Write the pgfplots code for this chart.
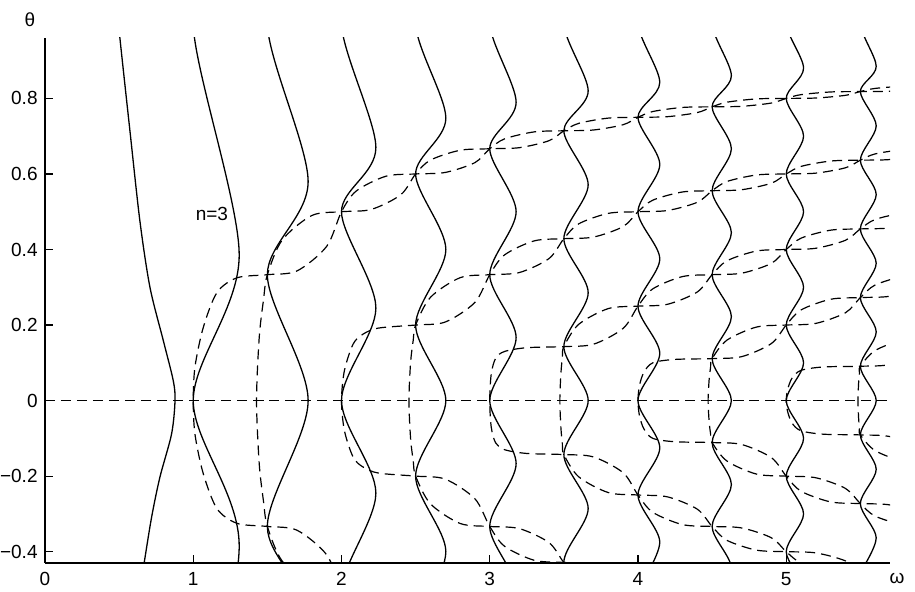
\documentclass[border=0pt]{standalone}
\usepackage{fontspec}
\setmainfont{Liberation Sans}
\usepackage{pgfplots}
\pgfplotsset{compat=1.18}

\pgfplotsset{
  sol/.style={black, line width=0.65pt, smooth},
  dsh/.style={black, line width=0.6pt, smooth, dash pattern=on 5pt off 3pt},
}

\begin{document}
\begin{tikzpicture}[font=\fontsize{9.5}{11}\selectfont]
\begin{axis}[
    scale only axis,
    width=422.5pt, height=262.5pt,
    xmin=0, xmax=5.7, ymin=-0.43, ymax=0.96,
    axis lines=left,
    axis line style={-},
    x axis line style={line width=0.7pt},
    y axis line style={line width=1.1pt},
    xtick={0,1,2,3,4,5},
    xticklabels={0,1,2,3,4,5},
    ytick={-0.4,-0.2,0,0.2,0.4,0.6,0.8},
    yticklabels={−0.4,−0.2,0,0.2,0.4,0.6,0.8},
    tick align=inside,
    major tick length=4pt,
    tick style={black, line width=0.6pt},
    xticklabel style={inner sep=0pt, yshift=-4.5pt},
    yticklabel style={inner sep=0pt, xshift=-3.5pt},
]
\coordinate (SW) at (rel axis cs:0,0);
\coordinate (NE) at (rel axis cs:1,1);

% zero line
\addplot[dsh] coordinates {(0,0) (5.7,0)};

% solid branches
\addplot[sol] coordinates {(0.47,1.1) (0.506,0.957) (0.573,0.714) (0.64,0.476) (0.708,0.30) (0.798,0.159) (0.865,0.053) (0.877,0) (0.854,-0.088) (0.775,-0.203) (0.719,-0.309) (0.668,-0.432) (0.64,-0.5)};
\addplot[sol] coordinates {(1.31,1.2) (1.0,1.0) (1.31,0.385) (1.0,0) (1.31,-0.385) (1.0,-1.0)};
\addplot[sol] coordinates {(1.775,1.25) (1.5,1.0) (1.775,0.58) (1.5,0.3333) (1.775,0) (1.5,-0.3333) (1.775,-0.58) (1.5,-1.0)};
\addplot[sol] coordinates {(2.232,1.2) (2.0,1.0) (2.232,0.67) (2.0,0.5) (2.232,0.245) (2.0,0) (2.232,-0.245) (2.0,-0.5) (2.232,-0.67)};
\addplot[sol] coordinates {(2.704,1.2) (2.5,1.0) (2.704,0.748) (2.5,0.6) (2.704,0.4) (2.5,0.2) (2.704,0) (2.5,-0.2) (2.704,-0.4) (2.5,-0.6)};
\addplot[sol] coordinates {(3.178,1.15) (3.0,1.0) (3.178,0.79) (3.0,0.6667) (3.178,0.5) (3.0,0.3333) (3.178,0.1667) (3.0,0) (3.178,-0.1667) (3.0,-0.3333) (3.178,-0.5) (3.0,-0.6667)};
\addplot[sol] coordinates {(3.664,1.15) (3.5,1.0) (3.664,0.82) (3.5,0.7143) (3.664,0.5714) (3.5,0.4286) (3.664,0.2857) (3.5,0.1429) (3.664,0) (3.5,-0.1429) (3.664,-0.2857) (3.5,-0.4286) (3.664,-0.5714)};
\addplot[sol] coordinates {(4.147,1.12) (4.0,1.0) (4.147,0.8425) (4.0,0.75) (4.147,0.625) (4.0,0.5) (4.147,0.375) (4.0,0.25) (4.147,0.125) (4.0,0) (4.147,-0.125) (4.0,-0.25) (4.147,-0.375) (4.0,-0.5)};
\addplot[sol] coordinates {(4.63,1.12) (4.5,1.0) (4.63,0.86) (4.5,0.7778) (4.63,0.6667) (4.5,0.5556) (4.63,0.4444) (4.5,0.3333) (4.63,0.2222) (4.5,0.1111) (4.63,0) (4.5,-0.1111) (4.63,-0.2222) (4.5,-0.3333) (4.63,-0.4444) (4.5,-0.5556)};
\addplot[sol] coordinates {(5.117,1.1) (5.0,1.0) (5.117,0.88) (5.0,0.8) (5.117,0.7) (5.0,0.6) (5.117,0.5) (5.0,0.4) (5.117,0.3) (5.0,0.2) (5.117,0.1) (5.0,0) (5.117,-0.1) (5.0,-0.2) (5.117,-0.3) (5.0,-0.4) (5.117,-0.5) (5.0,-0.6)};
\addplot[sol] coordinates {(5.607,1.1) (5.5,1.0) (5.607,0.885) (5.5,0.8182) (5.607,0.7273) (5.5,0.6364) (5.607,0.5455) (5.5,0.4545) (5.607,0.3636) (5.5,0.2727) (5.607,0.1818) (5.5,0.0909) (5.607,0) (5.5,-0.0909) (5.607,-0.1818) (5.5,-0.2727) (5.607,-0.3636) (5.5,-0.4545)};

% dashed branches, chain 1
\addplot[dsh] coordinates {(2.1,-0.555) (2,-0.5) (1.9,-0.4083) (1.7,-0.3433) (1.5,-0.3333) (1.295,-0.325) (1.16,-0.286) (1.068,-0.194) (1.012,-0.09) (1,0) (1.012,0.09) (1.068,0.194) (1.16,0.286) (1.295,0.325) (1.5,0.3333) (1.7,0.3433) (1.9,0.4083) (2,0.5) (2.1,0.555) (2.3,0.594) (2.5,0.6) (2.7,0.604) (2.9,0.63) (3,0.6667) (3.1,0.6929) (3.3,0.7114) (3.5,0.7143) (3.7,0.7164) (3.9,0.7304) (4,0.75) (4.1,0.7653) (4.3,0.7761) (4.5,0.7778) (4.7,0.7791) (4.9,0.7878) (5,0.8) (5.1,0.81) (5.3,0.8171) (5.5,0.8182) (5.7,0.8191) (5.9,0.825) (6,0.8333)};
\addplot[dsh] coordinates {(2.2,-0.506) (2,-0.5) (1.8,-0.49) (1.6,-0.425) (1.5,-0.3333) (1.474,-0.267) (1.445,-0.167) (1.427,0) (1.445,0.167) (1.474,0.267) (1.5,0.3333) (1.6,0.425) (1.8,0.49) (2,0.5) (2.2,0.506) (2.4,0.545) (2.5,0.6) (2.6,0.6367) (2.8,0.6627) (3,0.6667) (3.2,0.6696) (3.4,0.6881) (3.5,0.7143) (3.6,0.7339) (3.8,0.7479) (4,0.75) (4.2,0.7517) (4.4,0.7625) (4.5,0.7778) (4.6,0.79) (4.8,0.7987) (5,0.8) (5.2,0.8011) (5.4,0.8082) (5.5,0.8182) (5.6,0.8265) (5.8,0.8325) (6,0.8333)};
% chain 2
\addplot[dsh] coordinates {(4,-0.5) (3.9,-0.4607) (3.7,-0.4329) (3.5,-0.4286) (3.3,-0.4228) (3.1,-0.3857) (3,-0.3333) (2.9,-0.26) (2.7,-0.208) (2.5,-0.2) (2.25,-0.192) (2.146,-0.176) (2.079,-0.15) (2.02,-0.08) (2,0) (2.02,0.08) (2.079,0.15) (2.146,0.176) (2.25,0.192) (2.5,0.2) (2.7,0.208) (2.9,0.26) (3,0.3333) (3.1,0.3857) (3.3,0.4228) (3.5,0.4286) (3.7,0.4329) (3.9,0.4607) (4,0.5) (4.1,0.5306) (4.3,0.5523) (4.5,0.5556) (4.7,0.5583) (4.9,0.5756) (5,0.6) (5.1,0.62) (5.3,0.6342) (5.5,0.6364) (5.7,0.6382) (5.9,0.65) (6,0.6667)};
\addplot[dsh] coordinates {(4,-0.5) (3.8,-0.4957) (3.6,-0.4679) (3.5,-0.4286) (3.4,-0.3761) (3.2,-0.339) (3,-0.3333) (2.8,-0.3253) (2.6,-0.2733) (2.5,-0.2) (2.484,-0.16) (2.466,-0.1) (2.455,0) (2.466,0.1) (2.484,0.16) (2.5,0.2) (2.6,0.2733) (2.8,0.3253) (3,0.3333) (3.2,0.339) (3.4,0.3761) (3.5,0.4286) (3.6,0.4679) (3.8,0.4957) (4,0.5) (4.2,0.5033) (4.4,0.525) (4.5,0.5556) (4.6,0.58) (4.8,0.5973) (5,0.6) (5.2,0.6022) (5.4,0.6164) (5.5,0.6364) (5.6,0.6531) (5.8,0.6649) (6,0.6667)};
% chain 3
\addplot[dsh] coordinates {(6,-0.5) (5.9,-0.475) (5.7,-0.4572) (5.5,-0.4545) (5.3,-0.4512) (5.1,-0.43) (5,-0.4) (4.9,-0.3633) (4.7,-0.3373) (4.5,-0.3333) (4.3,-0.3283) (4.1,-0.2958) (4,-0.25) (3.9,-0.1911) (3.7,-0.1493) (3.5,-0.1429) (3.25,-0.14) (3.1,-0.13) (3.04,-0.112) (3.01,-0.07) (3,0) (3.01,0.07) (3.04,0.112) (3.1,0.13) (3.25,0.14) (3.5,0.1429) (3.7,0.1493) (3.9,0.1911) (4,0.25) (4.1,0.2958) (4.3,0.3283) (4.5,0.3333) (4.7,0.3373) (4.9,0.3633) (5,0.4) (5.1,0.43) (5.3,0.4512) (5.5,0.4545) (5.7,0.4572) (5.9,0.475) (6,0.5)};
\addplot[dsh] coordinates {(6,-0.5) (5.8,-0.4973) (5.6,-0.4795) (5.5,-0.4545) (5.4,-0.4245) (5.2,-0.4033) (5,-0.4) (4.8,-0.396) (4.6,-0.37) (4.5,-0.3333) (4.4,-0.2875) (4.2,-0.255) (4,-0.25) (3.8,-0.2436) (3.6,-0.2018) (3.5,-0.1429) (3.49,-0.114) (3.48,-0.0714) (3.473,0) (3.48,0.0714) (3.49,0.114) (3.5,0.1429) (3.6,0.2018) (3.8,0.2436) (4,0.25) (4.2,0.255) (4.4,0.2875) (4.5,0.3333) (4.6,0.37) (4.8,0.396) (5,0.4) (5.2,0.4033) (5.4,0.4245) (5.5,0.4545) (5.6,0.4795) (5.8,0.4973) (6,0.5)};
% chain 4
\addplot[dsh] coordinates {(6,-0.3333) (5.9,-0.2999) (5.7,-0.2763) (5.5,-0.2727) (5.3,-0.2683) (5.1,-0.24) (5,-0.2) (4.9,-0.1511) (4.7,-0.1164) (4.5,-0.1111) (4.25,-0.109) (4.1,-0.1) (4.04,-0.075) (4.01,-0.04) (4,0) (4.01,0.04) (4.04,0.075) (4.1,0.1) (4.25,0.109) (4.5,0.1111) (4.7,0.1164) (4.9,0.1511) (5,0.2) (5.1,0.24) (5.3,0.2683) (5.5,0.2727) (5.7,0.2763) (5.9,0.2999) (6,0.3333)};
\addplot[dsh] coordinates {(6,-0.3333) (5.8,-0.3297) (5.6,-0.306) (5.5,-0.2727) (5.4,-0.2327) (5.2,-0.2044) (5,-0.2) (4.8,-0.1947) (4.6,-0.16) (4.5,-0.1111) (4.49,-0.0889) (4.48,-0.0556) (4.473,0) (4.48,0.0556) (4.49,0.0889) (4.5,0.1111) (4.6,0.16) (4.8,0.1947) (5,0.2) (5.2,0.2044) (5.4,0.2327) (5.5,0.2727) (5.6,0.306) (5.8,0.3297) (6,0.3333)};
% chain 5
\addplot[dsh] coordinates {(6,-0.1667) (5.9,-0.125) (5.7,-0.0954) (5.5,-0.0909) (5.25,-0.089) (5.1,-0.08) (5.04,-0.06) (5.01,-0.03) (5,0) (5.01,0.03) (5.04,0.06) (5.1,0.08) (5.25,0.089) (5.5,0.0909) (5.7,0.0954) (5.9,0.125) (6,0.1667)};
\addplot[dsh] coordinates {(6,-0.1667) (5.8,-0.1621) (5.6,-0.1326) (5.5,-0.0909) (5.494,-0.073) (5.488,-0.045) (5.484,0) (5.488,0.045) (5.494,0.073) (5.5,0.0909) (5.6,0.1326) (5.8,0.1621) (6,0.1667)};

\node at (axis cs:1.126,0.495) {n=3};
\end{axis}
\node at ([shift={(-7.5pt,9.25pt)}]SW |- NE) {θ};
\node at ([shift={(3.5pt,-7.5pt)}]NE |- SW) {ω};
\pgfresetboundingbox
\path[use as bounding box] ([shift={(-22.5pt,-14.5pt)}]SW) rectangle ([shift={(12.5pt,19pt)}]NE);
\end{tikzpicture}
\end{document}
